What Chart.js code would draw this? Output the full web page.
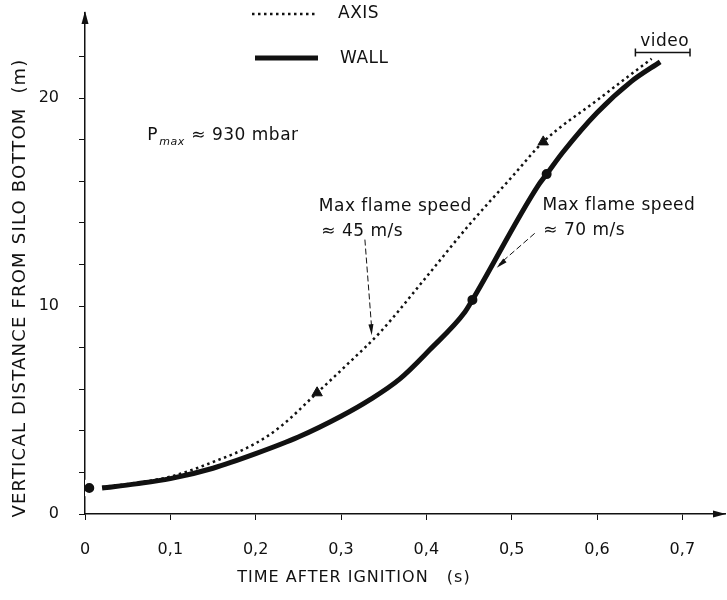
<!DOCTYPE html>
<html>
<head>
<meta charset="utf-8">
<script src="https://cdn.jsdelivr.net/npm/chart.js@4.4.1/dist/chart.umd.min.js"></script>
<style>
  html, body { margin: 0; padding: 0; background: #fff; }
  #wrap { width: 727px; height: 600px; }
</style>
</head>
<body>
<div id="wrap"><canvas id="myChart" width="727" height="600"></canvas></div>
<script>
// values (time in s, distance in m)
var axisTime = [0.02, 0.06, 0.1, 0.15, 0.2, 0.229, 0.272, 0.31, 0.346, 0.4, 0.45, 0.5, 0.537, 0.6, 0.664];
var axisDist = [1.3, 1.5, 1.8, 2.5, 3.4, 4.2, 5.83, 7.3, 8.75, 11.4, 13.9, 16.2, 17.9, 19.9, 21.9];

var wallTime = [0.02, 0.06, 0.1, 0.15, 0.2, 0.25, 0.3, 0.334, 0.369, 0.404, 0.445, 0.454, 0.531, 0.541, 0.56, 0.6, 0.64, 0.674];
var wallDist = [1.25, 1.45, 1.7, 2.2, 2.9, 3.7, 4.7, 5.5, 6.5, 7.9, 9.7, 10.3, 15.8, 16.35, 17.4, 19.3, 20.8, 21.75];

var dotTime = [0.005, 0.454, 0.541];
var dotDist = [1.25, 10.3, 16.35];

var triTime = [0.272, 0.537];
var triDist = [5.83, 17.9];

var xTickLabels = ['0', '0,1', '0,2', '0,3', '0,4', '0,5', '0,6', '0,7'];
var yTickLabels = ['0', '10', '20'];

var ink = '#111';
var font = 'DejaVu Sans';

function pts(xs, ys) {
    return xs.map(function(x, i) { return { x: x, y: ys[i] }; });
}

function arrowHead(ctx, x, y, ang, len, half) {
    ctx.beginPath();
    ctx.moveTo(x, y);
    ctx.lineTo(x - len * Math.cos(ang) + half * Math.sin(ang), y - len * Math.sin(ang) - half * Math.cos(ang));
    ctx.lineTo(x - len * Math.cos(ang) - half * Math.sin(ang), y - len * Math.sin(ang) + half * Math.cos(ang));
    ctx.closePath();
    ctx.fill();
}

// axis arrows, legend, titles and the notes on the plot
var decorations = {
    id: 'decorations',
    afterDraw: function(chart) {
        var ctx = chart.ctx;
        var xs = chart.scales.x, ys = chart.scales.y;
        var a = chart.chartArea;
        var px = function(v) { return xs.getPixelForValue(v); };
        var py = function(v) { return ys.getPixelForValue(v); };
        ctx.save();
        ctx.fillStyle = ink;
        ctx.strokeStyle = ink;

        // arrow tips on the axes
        arrowHead(ctx, a.left, a.top - 2, -Math.PI / 2, 13, 3.5);
        arrowHead(ctx, a.right + 1, a.bottom, 0, 13, 3.5);

        // legend
        ctx.lineWidth = 2.5;
        ctx.setLineDash([2.5, 3.5]);
        ctx.beginPath(); ctx.moveTo(252, 14); ctx.lineTo(318, 14); ctx.stroke();
        ctx.setLineDash([]);
        ctx.lineWidth = 5;
        ctx.beginPath(); ctx.moveTo(255, 58); ctx.lineTo(318, 58); ctx.stroke();
        ctx.font = '17px "' + font + '"';
        ctx.letterSpacing = '0.5px';
        ctx.textBaseline = 'middle';
        ctx.textAlign = 'left';
        ctx.fillText('AXIS', 338, 14);
        ctx.fillText('WALL', 340, 59);

        // video bar
        var vy = py(22.2), v0 = px(0.645), v1 = px(0.709);
        ctx.lineWidth = 1.5;
        ctx.beginPath();
        ctx.moveTo(v0, vy); ctx.lineTo(v1, vy);
        ctx.moveTo(v0, vy - 4); ctx.lineTo(v0, vy + 4);
        ctx.moveTo(v1, vy - 4); ctx.lineTo(v1, vy + 4);
        ctx.stroke();
        ctx.textAlign = 'center';
        ctx.fillText('video', (v0 + v1) / 2 + 2, vy - 11);

        // P max note
        ctx.textAlign = 'left';
        ctx.fillText('P', px(0.073), py(18.2));
        ctx.font = 'italic 11px "' + font + '"';
        ctx.fillText('max', px(0.073) + 12, py(18.2) + 6);
        ctx.font = '17px "' + font + '"';
        ctx.fillText('\u2248 930 mbar', px(0.073) + 44, py(18.2));

        // flame speed notes
        ctx.fillText('Max flame speed', px(0.274), py(14.8));
        ctx.fillText('\u2248 45 m/s', px(0.277), py(13.6));
        ctx.fillText('Max flame speed', px(0.536), py(14.85));
        ctx.fillText('\u2248 70 m/s', px(0.537), py(13.65));

        // dashed pointers
        ctx.lineWidth = 1;
        ctx.setLineDash([6, 3]);
        ctx.beginPath();
        ctx.moveTo(px(0.328), py(13.2)); ctx.lineTo(px(0.336), py(8.9));
        ctx.moveTo(px(0.527), py(13.5)); ctx.lineTo(px(0.485), py(12.0));
        ctx.stroke();
        ctx.setLineDash([]);
        var ang1 = Math.atan2(py(8.6) - py(13.2), px(0.336) - px(0.328));
        arrowHead(ctx, px(0.336), py(8.6), ang1, 11, 2.5);
        var ang2 = Math.atan2(py(11.85) - py(13.5), px(0.4825) - px(0.527));
        arrowHead(ctx, px(0.4825), py(11.85), ang2, 11, 2.5);

        // axis titles
        ctx.font = '16px "' + font + '"';
        ctx.letterSpacing = '1px';
        ctx.textAlign = 'center';
        ctx.fillText('TIME AFTER IGNITION   (s)', 354, 578);
        ctx.font = '18px "' + font + '"';
        ctx.letterSpacing = '1.2px';
        ctx.translate(20, 288);
        ctx.rotate(-Math.PI / 2);
        ctx.fillText('VERTICAL DISTANCE FROM SILO BOTTOM  (m)', 0, 0);
        ctx.restore();
    }
};

var myChart = new Chart(document.getElementById('myChart'), {
    type: 'scatter',
    data: {
        datasets: [
            {
                label: 'AXIS',
                data: pts(axisTime, axisDist),
                showLine: true,
                borderColor: ink,
                borderWidth: 2.5,
                borderDash: [2.5, 3.5],
                pointRadius: 0,
                cubicInterpolationMode: 'monotone'
            },
            {
                label: 'WALL',
                data: pts(wallTime, wallDist),
                showLine: true,
                borderColor: ink,
                borderWidth: 5,
                pointRadius: 0,
                cubicInterpolationMode: 'monotone'
            },
            {
                label: 'dots',
                data: pts(dotTime, dotDist),
                pointRadius: 7,
                pointBackgroundColor: ink,
                pointBorderColor: '#fff',
                pointBorderWidth: 4
            },
            {
                label: 'triangles',
                data: pts(triTime, triDist),
                pointStyle: 'triangle',
                pointRadius: 6,
                pointBackgroundColor: ink,
                pointBorderColor: ink,
                pointBorderWidth: 1
            }
        ]
    },
    options: {
        responsive: false,
        animation: false,
        layout: { autoPadding: false, padding: { top: 13, right: 2, left: 0, bottom: 0 } },
        plugins: {
            legend: { display: false },
            tooltip: { enabled: false }
        },
        scales: {
            x: {
                type: 'linear',
                min: 0,
                max: 0.75,
                afterFit: function(scale) {
                    scale.height = 86;
                    scale.paddingLeft = 0;
                    scale.paddingRight = 0;
                },
                border: { display: true, color: ink, width: 1.5 },
                grid: { display: true, drawOnChartArea: false, drawTicks: true, tickLength: 6, color: ink, lineWidth: 1 },
                ticks: {
                    stepSize: 0.1,
                    includeBounds: false,
                    padding: 20,
                    color: ink,
                    font: { family: font, size: 16 },
                    maxRotation: 0,
                    callback: function(value, index) { return xTickLabels[index]; }
                }
            },
            y: {
                type: 'linear',
                min: 0,
                max: 24.1,
                afterFit: function(scale) {
                    scale.width = 85;
                    scale.paddingTop = 0;
                    scale.paddingBottom = 0;
                },
                afterBuildTicks: function(scale) {
                    scale.ticks = scale.ticks.filter(function(t) { return t.value <= 22; });
                },
                border: { display: true, color: ink, width: 1.5 },
                grid: { display: true, drawOnChartArea: false, drawTicks: true, tickLength: 6, color: ink, lineWidth: 1 },
                ticks: {
                    stepSize: 2,
                    includeBounds: false,
                    padding: 20,
                    color: ink,
                    font: { family: font, size: 16 },
                    callback: function(value) {
                        return value % 10 === 0 ? yTickLabels[value / 10] : '';
                    }
                }
            }
        }
    },
    plugins: [decorations]
});
</script>
</body>
</html>
